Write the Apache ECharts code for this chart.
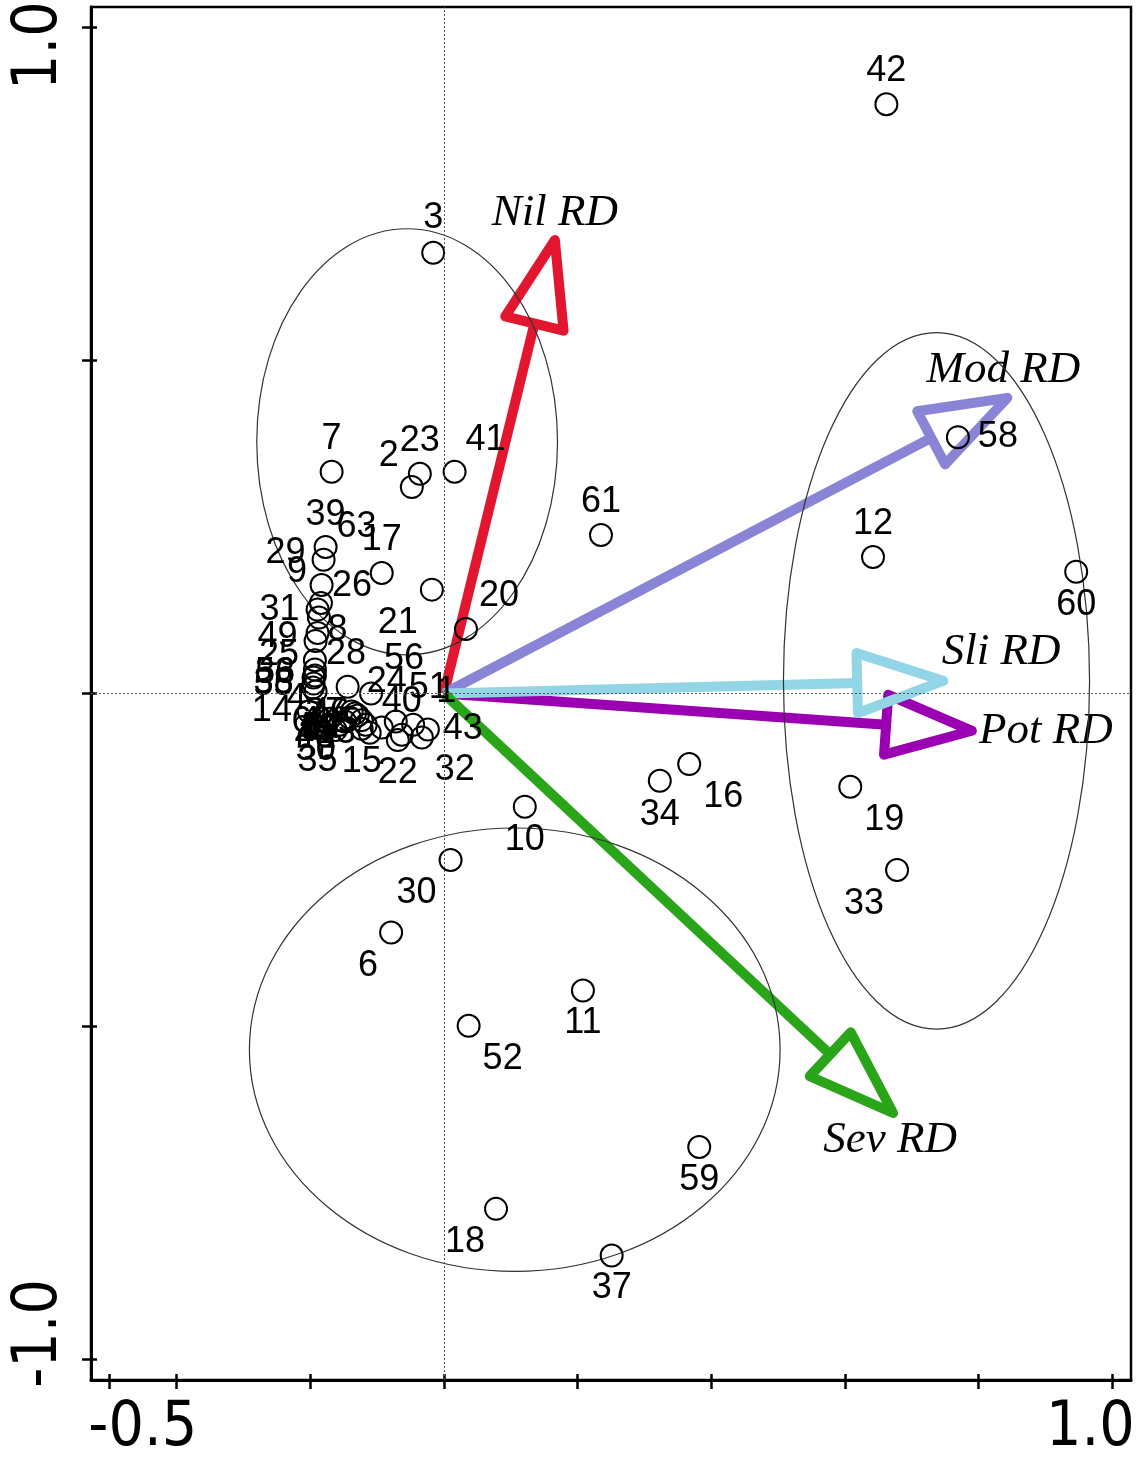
<!DOCTYPE html>
<html><head><meta charset="utf-8">
<script src="https://cdn.jsdelivr.net/npm/echarts@6/dist/echarts.min.js"></script>
<style>html,body{margin:0;padding:0;background:#fff}#c{width:1136px;height:1463px}</style>
</head><body><div id="c"></div>
<script>
// ---------- data ----------
const sampleIds = [1,2,3,4,5,6,7,8,9,10,11,12,13,14,15,16,17,18,19,20,21,22,23,24,25,26,27,28,29,30,31,32,33,34,35,36,37,38,39,40,41,42,43,44,45,46,47,48,49,50,51,52,53,54,55,56,57,58,59,60,61,62,63];
const sampleX = [-0.046,-0.048,-0.016,-0.192,-0.093,-0.079,-0.168,-0.189,-0.184,0.121,0.208,0.642,-0.111,-0.202,-0.123,0.367,-0.093,0.078,0.608,0.033,-0.018,-0.069,-0.036,-0.144,-0.193,-0.187,-0.133,-0.196,-0.183,0.010,-0.189,-0.033,0.678,0.323,-0.189,-0.193,0.251,-0.195,-0.177,-0.063,0.016,0.662,-0.024,-0.141,-0.148,-0.138,-0.129,-0.156,-0.192,-0.162,-0.072,0.037,-0.193,-0.123,-0.195,-0.109,-0.117,0.769,0.382,0.946,0.235,-0.171,-0.180];
const sampleY = [-0.047,0.310,0.662,0.003,-0.051,-0.359,0.333,0.091,0.136,-0.170,-0.446,0.205,-0.059,-0.027,-0.053,-0.106,0.181,-0.774,-0.140,0.097,0.156,-0.070,0.330,0.010,0.050,0.114,-0.030,0.009,0.163,-0.250,0.126,-0.066,-0.265,-0.131,-0.052,0.036,-0.844,0.024,0.220,-0.062,0.333,0.885,-0.054,-0.036,-0.042,-0.027,-0.033,-0.047,0.079,-0.055,-0.042,-0.499,0.027,-0.040,0.015,0.000,-0.047,0.385,-0.681,0.183,0.238,-0.038,0.201];

const arrowNames = ['Nil RD','Mod RD','Pot RD','Sli RD','Sev RD'];
const arrowX = [0.166, 0.843, 0.790, 0.747, 0.672];
const arrowY = [0.681, 0.444, -0.056, 0.019, -0.630];

const ellipseCX = [-0.055, 0.737, 0.106];
const ellipseCY = [0.378, 0.019, -0.535];
const ellipseRX = [0.225, 0.229, 0.397];
const ellipseRY = [0.320, 0.523, 0.333];

const xTickValues = [-0.5,-0.4,-0.2,0,0.2,0.4,0.6,0.8,1.0];
const xTickLabels = [-0.5, 1.0];
const yTickValues = [-1.0,-0.5,0,0.5,1.0];
const yTickLabels = [-1.0, 1.0];

// ---------- style ----------
const labelOffsets = [[33,-33],[-23,-31],[0,-35],[-19,8],[-34,-4],[-23,34],[0,-33],[20,-3],[-24,-31],[0,33],[0,33],[0,-33],[-34,0],[-37,0],[0,33],[34,33],[0,-33],[-31,33],[34,33],[33,-33],[-34,33],[0,33],[0,-33],[39,-5],[-36,-5],[33,-32],[-30,0],[33,-33],[-36,-32],[-34,33],[-38,0],[33,33],[-33,34],[0,34],[0,33],[-40,4],[0,33],[-40,6],[0,-32],[0,-33],[31,-32],[0,-33],[35,0],[-30,5],[-28,10],[-22,2],[-35,14],[-25,12],[-38,-4],[-20,20],[33,-33],[34,33],[-40,-2],[-40,8],[-40,2],[33,-34],[-45,5],[40,0],[0,33],[0,33],[0,-33],[-18,3],[33,-33]];
const arrowColors = ['#e3162f','#8a84d6','#9a00b2','#92d5e6','#2aa418'];
const arrowLabelOffsets = [[0,-27],[-4,-28],[74,0],[58,-29],[-3,27]];
const axisFont = "'Liberation Sans Narrow','DejaVu Sans Condensed','Liberation Sans',Arial,sans-serif";
const X_MIN=-0.528, X_MAX=1.028, Y_MIN=-1.031, Y_MAX=1.031;

const chart = echarts.init(document.getElementById('c'), null, {renderer:'canvas'});

function baseAxis(min, max){
  return {type:'value', min, max, splitLine:{show:false}, axisPointer:{show:false}};
}
const gridBox = {left:91, right:5, top:7, bottom:83};

const option = {
  animation:false,
  backgroundColor:'#fff',
  grid:[
    Object.assign({show:true, borderColor:'#000', borderWidth:2.5, backgroundColor:'transparent', containLabel:false, outerBoundsMode:'none'}, gridBox),
    Object.assign({show:false, containLabel:false, outerBoundsMode:'none'}, gridBox)
  ],
  xAxis:[
    Object.assign(baseAxis(X_MIN,X_MAX), {
      gridIndex:0, position:'bottom',
      axisLine:{show:true, onZero:false, lineStyle:{color:'#000', width:3}},
      axisTick:{show:true, customValues:xTickValues, length:9, lineStyle:{color:'#000', width:2.5}},
      axisLabel:{show:true, customValues:xTickLabels, margin:18,
        formatter:v=> (v<0 ? '{l|' : '{r|') + v.toFixed(1) + '}',
        rich:{
          l:{fontSize:62, fontFamily:axisFont, color:'#000', padding:[0,0,0,66]},
          r:{fontSize:62, fontFamily:axisFont, color:'#000', padding:[0,44,0,0]}
        }}
    }),
    Object.assign(baseAxis(X_MIN,X_MAX), {
      gridIndex:1, position:'bottom',
      axisLine:{show:false, onZero:false},
      axisTick:{show:true, inside:true, customValues:xTickValues, length:6, lineStyle:{color:'#000', width:2.5}},
      axisLabel:{show:false}
    })
  ],
  yAxis:[
    Object.assign(baseAxis(Y_MIN,Y_MAX), {
      gridIndex:0, position:'left',
      axisLine:{show:true, onZero:false, lineStyle:{color:'#000', width:3}},
      axisTick:{show:true, customValues:yTickValues, length:9, lineStyle:{color:'#000', width:2.5}},
      axisLabel:{show:true, customValues:yTickLabels, rotate:90, margin:20,
        formatter:v=> (v<0 ? '{b|' : '{t|') + v.toFixed(1) + '}',
        rich:{
          t:{fontSize:62, fontFamily:axisFont, color:'#000', padding:[0,36,0,0]},
          b:{fontSize:62, fontFamily:axisFont, color:'#000', padding:[0,0,0,52]}
        }}
    }),
    Object.assign(baseAxis(Y_MIN,Y_MAX), {
      gridIndex:1, position:'left',
      axisLine:{show:false, onZero:false},
      axisTick:{show:true, inside:true, customValues:yTickValues, length:6, lineStyle:{color:'#000', width:2.5}},
      axisLabel:{show:false}
    })
  ],
  series:[
    {
      type:'scatter', xAxisIndex:0, yAxisIndex:0, data:[], z:1, silent:true,
      markLine:{silent:true, symbol:'none', label:{show:false}, animation:false,
        lineStyle:{type:[2,2], color:'#555', width:1},
        data:[{xAxis:0},{yAxis:0}]}
    },
    {
      type:'custom', xAxisIndex:0, yAxisIndex:0, z:2, silent:true,
      data: arrowX.map((x,i)=>[x, arrowY[i], i]),
      encode:{x:0, y:1},
      renderItem:function(params, api){
        const i = api.value(2);
        const o = api.coord([0,0]);
        const t = api.coord([api.value(0), api.value(1)]);
        const dx=t[0]-o[0], dy=t[1]-o[1];
        const L=Math.hypot(dx,dy), ux=dx/L, uy=dy/L;
        const HL=86, HW=30;
        const bx=t[0]-ux*HL, by=t[1]-uy*HL;
        const px=-uy, py=ux;
        const color=arrowColors[i];
        const lo=arrowLabelOffsets[i];
        return {type:'group', children:[
          {type:'line', shape:{x1:o[0], y1:o[1], x2:bx, y2:by}, style:{stroke:color, lineWidth:10, lineCap:'butt'}},
          {type:'polygon', shape:{points:[[t[0],t[1]],[bx+px*HW,by+py*HW],[bx-px*HW,by-py*HW]]},
            style:{fill:'none', stroke:color, lineWidth:10, lineJoin:'round'}},
          {type:'text', x:t[0]+lo[0], y:t[1]+lo[1],
            style:{text:arrowNames[i], font:"italic 45px 'Liberation Serif','Times New Roman',serif", fill:'#000', align:'center', verticalAlign:'middle'}}
        ]};
      }
    },
    {
      type:'custom', xAxisIndex:0, yAxisIndex:0, z:3, silent:true,
      data: ellipseCX.map((cx,i)=>[cx, ellipseCY[i], ellipseRX[i], ellipseRY[i]]),
      encode:{x:0, y:1},
      renderItem:function(params, api){
        const c = api.coord([api.value(0), api.value(1)]);
        const s = api.size([api.value(2), api.value(3)]);
        return {type:'ellipse', shape:{cx:c[0], cy:c[1], rx:s[0], ry:s[1]},
          style:{fill:'none', stroke:'#333', lineWidth:1.2}};
      }
    },
    {
      type:'custom', xAxisIndex:0, yAxisIndex:0, z:4, silent:true,
      data: sampleIds.map((id,i)=>[sampleX[i], sampleY[i], id]),
      encode:{x:0, y:1},
      renderItem:function(params, api){
        const i = params.dataIndex;
        const p = api.coord([api.value(0), api.value(1)]);
        const o = labelOffsets[i];
        return {type:'group', children:[
          {type:'circle', shape:{cx:p[0], cy:p[1], r:11}, style:{fill:'none', stroke:'#000', lineWidth:2}},
          {type:'text', x:p[0]+o[0], y:p[1]+o[1],
            style:{text:String(api.value(2)), font:"36px 'Liberation Sans',Arial,sans-serif", fill:'#000', align:'center', verticalAlign:'middle'}}
        ]};
      }
    }
  ]
};
chart.setOption(option);
</script>
</body></html>
